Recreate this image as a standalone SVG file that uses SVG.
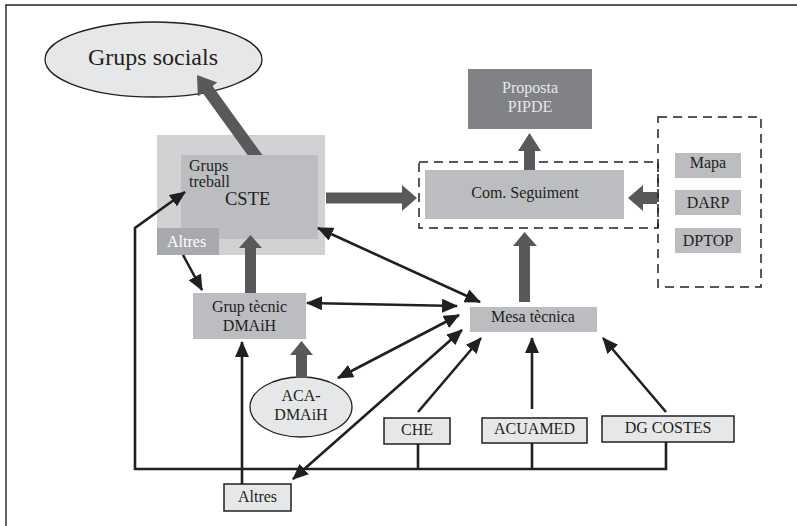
<svg xmlns="http://www.w3.org/2000/svg" width="797" height="526" viewBox="0 0 797 526">
<defs>
<style>
text{font-family:"Liberation Serif","Times New Roman",serif;fill:#231f20;font-size:16px}
.c{text-anchor:middle}
.box{fill:#bcbdc0}
.wbox{fill:#e6e7e8;stroke:#231f20;stroke-width:1.5}
.ell{fill:#e6e7e8;stroke:#231f20;stroke-width:1.3}
.dash{fill:none;stroke:#231f20;stroke-width:1.5;stroke-dasharray:9 6}
.thick{fill:#58595b}
.ln{fill:none;stroke:#231f20;stroke-width:2.6}
.arr{marker-end:url(#ah)}
.dbl{marker-start:url(#ah);marker-end:url(#ah)}
</style>
<marker id="ah" viewBox="0 0 16 14" refX="15" refY="7" markerWidth="16" markerHeight="14" markerUnits="userSpaceOnUse" orient="auto-start-reverse">
<path d="M0,0 L16,7 L0,14 z" fill="#231f20"/>
</marker>
</defs>
<rect width="797" height="526" fill="#ffffff"/>
<g id="frame"><path d="M6,526 V5 H797" fill="none" stroke="#231f20" stroke-width="1.4"/></g>

<g id="grups-socials">
<ellipse class="ell" cx="153.5" cy="59.5" rx="108.5" ry="37.5"/>
<text class="c" x="153" y="65" style="font-size:24px">Grups socials</text>
</g>

<g id="cste">
<rect x="157" y="135" width="168" height="120" fill="#d1d2d4"/>
<rect x="181" y="155" width="137" height="84" fill="#bcbdc0"/>
<text x="189" y="171">Grups</text>
<text x="189" y="187">treball</text>
<text x="225" y="205" style="font-size:18.5px">CSTE</text>
</g>
<g id="altres-cste">
<rect x="157" y="228" width="62" height="27" fill="#a7a9ac"/>
<text x="167" y="247" style="fill:#ffffff">Altres</text>
</g>

<g id="proposta">
<rect x="468" y="69" width="124" height="60" fill="#808285"/>
<text class="c" x="530" y="93" style="fill:#e6e7e8">Proposta</text>
<text class="c" x="530" y="112" style="fill:#e6e7e8">PIPDE</text>
</g>

<g id="com-seguiment">
<rect class="dash" x="419" y="162" width="239" height="66"/>
<rect class="box" x="425" y="170" width="199" height="49"/>
<text class="c" x="525" y="198">Com. Seguiment</text>
</g>

<g id="fonts-group">
<rect class="dash" x="658" y="117" width="103" height="170"/>
<g id="mapa"><rect class="box" x="675" y="153" width="66" height="25"/><text class="c" x="708" y="168">Mapa</text></g>
<g id="darp"><rect class="box" x="675" y="190" width="66" height="25"/><text class="c" x="708" y="208">DARP</text></g>
<g id="dptop"><rect class="box" x="675" y="228" width="66" height="25"/><text class="c" x="708" y="246">DPTOP</text></g>
</g>

<g id="mesa-tecnica">
<rect class="box" x="470" y="307" width="127" height="25"/>
<text class="c" x="533" y="322">Mesa tècnica</text>
</g>

<g id="grup-tecnic">
<rect class="box" x="193" y="293" width="113" height="46"/>
<text class="c" x="249.5" y="312">Grup tècnic</text>
<text class="c" x="249.5" y="331">DMAiH</text>
</g>

<g id="aca-dmaih">
<ellipse class="ell" cx="301" cy="407" rx="51" ry="30"/>
<text class="c" x="301" y="401">ACA-</text>
<text class="c" x="301" y="420">DMAiH</text>
</g>

<g id="che">
<rect class="wbox" x="384" y="418" width="66" height="26"/>
<text class="c" x="417" y="435">CHE</text>
</g>
<g id="acuamed">
<rect class="wbox" x="482" y="418" width="105" height="25"/>
<text class="c" x="534.5" y="434">ACUAMED</text>
</g>
<g id="dg-costes">
<rect class="wbox" x="602" y="416" width="132" height="26"/>
<text class="c" x="668" y="433">DG COSTES</text>
</g>
<g id="altres-bottom">
<rect class="wbox" x="224" y="484" width="67" height="27"/>
<text class="c" x="257.5" y="502">Altres</text>
</g>

<g id="connectors">
<polygon class="thick" points="197,75 217.3,82.6 212.5,86.1 262.4,155 247.6,155 202.7,93.1 197.9,96.6"/>
<polygon class="thick" points="326,192.5 402,192.5 402,185 417,198 402,211 402,203.5 326,203.5"/>
<polygon class="thick" points="524,170 524,151 518,151 529.5,133 541,151 535,151 535,170"/>
<polygon class="thick" points="657,192 643,192 643,185 628,198 643,211 643,204 657,204"/>
<polygon class="thick" points="519,302 519,246 513,246 524.5,232 537,246 530,246 530,302"/>
<polygon class="thick" points="245,293 245,248 239,248 250.5,235 262,248 256,248 256,293"/>
<polygon class="thick" points="296,378 296,355 290,355 301.5,341 313,355 307,355 307,378"/>

<polyline class="ln arr" points="666,442 666,469 135,469 135,228 185,192"/>
<line class="ln" x1="418" y1="444" x2="418" y2="469"/>
<line class="ln" x1="532" y1="443" x2="532" y2="469"/>
<line class="ln arr" x1="183" y1="255" x2="202" y2="290"/>
<line class="ln dbl" x1="318" y1="228" x2="480" y2="302"/>
<line class="ln dbl" x1="307" y1="303" x2="457" y2="306"/>
<line class="ln dbl" x1="338" y1="378" x2="459" y2="315"/>
<line class="ln dbl" x1="293" y1="479" x2="462" y2="330"/>
<line class="ln arr" x1="418" y1="412" x2="481" y2="338"/>
<line class="ln arr" x1="532" y1="409" x2="532" y2="338"/>
<line class="ln arr" x1="666" y1="412" x2="603" y2="338"/>
<line class="ln arr" x1="242" y1="484" x2="242" y2="342"/>
</g>
</svg>
